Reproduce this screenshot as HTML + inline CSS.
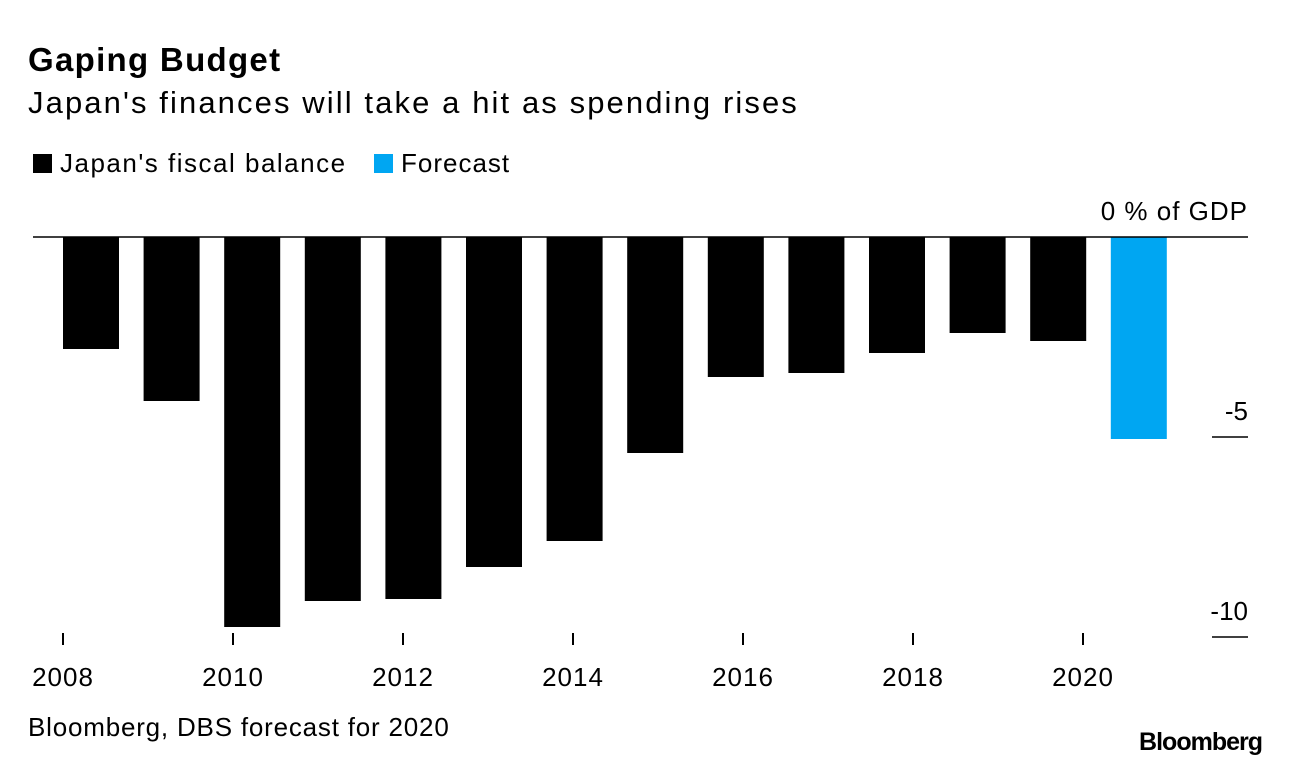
<!DOCTYPE html>
<html><head><meta charset="utf-8"><style>
body{margin:0;background:#fff;font-family:"Liberation Sans",sans-serif;color:#000;}
.wrap{position:relative;width:1289px;height:768px;overflow:hidden;}
.t{position:absolute;white-space:nowrap;}
</style></head><body>
<div class="wrap">
<div class="t" style="left:28px;top:41px;font-size:33px;font-weight:bold;letter-spacing:1.3px">Gaping Budget</div>
<div class="t" style="left:28px;top:85px;font-size:31px;letter-spacing:2.1px">Japan's finances will take a hit as spending rises</div>
<div class="t" style="left:33px;top:148px;font-size:26px;letter-spacing:1.5px"><span style="display:inline-block;width:19px;height:19px;background:#000;vertical-align:-1px;margin-right:8px"></span>Japan's fiscal balance</div>
<div class="t" style="left:374px;top:148px;font-size:26px;letter-spacing:1px"><span style="display:inline-block;width:19px;height:19px;background:#00a6f2;vertical-align:-1px;margin-right:8px"></span>Forecast</div>
<svg id="chart" width="1289" height="768" style="position:absolute;left:0;top:0"></svg>
<div class="t" style="left:28px;top:712px;font-size:26px;letter-spacing:0.8px">Bloomberg, DBS forecast for 2020</div>
<div class="t" style="right:27px;top:728px;font-size:25px;font-weight:bold;letter-spacing:-1px">Bloomberg</div>
</div>
<script>
const years=[2008,2009,2010,2011,2012,2013,2014,2015,2016,2017,2018,2019,2020,2021];
const values=[-2.8,-4.1,-9.75,-9.1,-9.05,-8.25,-7.6,-5.4,-3.5,-3.4,-2.9,-2.4,-2.6,-5.05];
const forecast=[false,false,false,false,false,false,false,false,false,false,false,false,false,true];
const xTicks=[2008,2010,2012,2014,2016,2018,2020];
const yTicks=[-5,-10];
const svg=document.getElementById('chart');
const NS='http://www.w3.org/2000/svg';
const y=v=>237-v*40;
const bx=i=>63+i*80.6;
const tx=yr=>63+(yr-2008)*85;
function mk(tag,attrs){const e=document.createElementNS(NS,tag);for(const k in attrs)e.setAttribute(k,attrs[k]);svg.appendChild(e);return e;}
values.forEach((v,i)=>{
  const r=mk('rect',{x:bx(i),y:Math.min(y(0),y(v)),width:56,height:Math.abs(y(v)-y(0)),fill:forecast[i]?'#00a6f2':'#000'});
  
  
});
const zl=mk('line',{x1:33,x2:1248,y1:y(0),y2:y(0),stroke:'#000','stroke-width':1.5});


const zt=mk('text',{x:1248,y:y(0)-17,'text-anchor':'end','font-size':26,'letter-spacing':1,'font-family':'Liberation Sans, sans-serif'});
zt.textContent='0 % of GDP';


yTicks.forEach(v=>{
  const l=mk('line',{x1:1212,x2:1248,y1:y(v),y2:y(v),stroke:'#000','stroke-width':1.5});
  
  
  const t=mk('text',{x:1248,y:y(v)-17,'text-anchor':'end','font-size':26,'font-family':'Liberation Sans, sans-serif'});
  t.textContent=v;
  
  
});
xTicks.forEach(yr=>{
  const l=mk('line',{x1:tx(yr),x2:tx(yr),y1:633,y2:645,stroke:'#000','stroke-width':2});
  
  
  const t=mk('text',{x:tx(yr),y:686,'text-anchor':'middle','font-size':26,'letter-spacing':1,'font-family':'Liberation Sans, sans-serif'});
  t.textContent=yr;
  
  
});
</script>
</body></html>
